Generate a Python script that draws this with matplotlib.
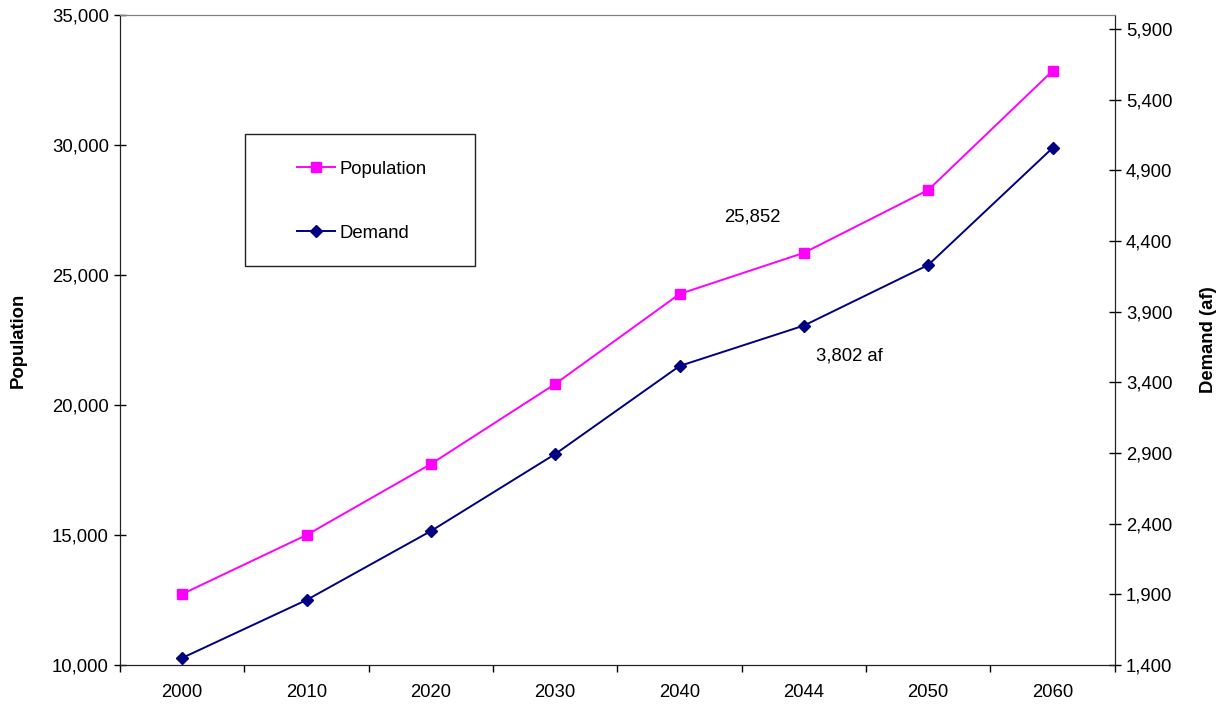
import matplotlib.pyplot as plt
from matplotlib.ticker import FuncFormatter, MultipleLocator
from matplotlib.patches import Rectangle
import numpy as np

plt.rcParams['font.family'] = ['Liberation Sans', 'DejaVu Sans']

# data
years = ['2000', '2010', '2020', '2030', '2040', '2044', '2050', '2060']
population = [12730, 15000, 17730, 20810, 24270, 25852, 28270, 32850]
demand = [1450, 1860, 2348, 2893, 3516, 3802, 4231, 5059]

fs = 13.3

fig = plt.figure(figsize=(12.25, 7.04), dpi=100)
ax = fig.add_axes([0.098, 0.0554, 0.812, 0.9233])
ax2 = ax.twinx()

x = np.arange(len(years))
lp, = ax.plot(x, population, color='#FF00FF', marker='s', markersize=7,
              linewidth=1.4, label='Population')
ld, = ax2.plot(x, demand, color='#000080', marker='D', markersize=6.3,
               linewidth=1.4, label='Demand')

ax.set_xlim(-0.5, len(years) - 0.5)
ax.set_ylim(10000, 35000)
ax2.set_ylim(1400, 6000)

comma = FuncFormatter(lambda v, p: '{:,.0f}'.format(v))
ax.yaxis.set_major_locator(MultipleLocator(5000))
ax.yaxis.set_major_formatter(comma)
ax2.set_yticks(np.arange(1400, 6000, 500))
ax2.yaxis.set_major_formatter(comma)

ax.set_xticks(x)
ax.set_xticklabels(years)
ax.set_xticks(np.arange(-0.5, len(years)), minor=True)
ax.tick_params(axis='x', which='major', length=0, pad=14, labelsize=fs)
ax.tick_params(axis='x', which='minor', length=5, direction='out', width=1)
ax.tick_params(axis='y', direction='inout', length=8, width=1, labelsize=fs, pad=4)
ax2.tick_params(axis='y', direction='inout', length=8, width=1, labelsize=fs, pad=4)

for a in (ax, ax2):
    a.spines['top'].set_color('#808080')
    a.spines['left'].set_color('#222222')
    a.spines['right'].set_color('#222222')
    a.spines['bottom'].set_color('#222222')

ax.set_ylabel('Population', fontsize=fs, fontweight='bold', labelpad=18)
ax2.set_ylabel('Demand (af)', fontsize=fs, fontweight='bold', rotation=90, labelpad=20)

ax.annotate('25,852', xy=(5, population[5]), xytext=(-37, 26),
            textcoords='offset points', ha='center', va='center', fontsize=fs)
ax2.annotate('3,802 af', xy=(5, demand[5]), xytext=(33, -22),
             textcoords='offset points', ha='center', va='center', fontsize=fs)

# legend box drawn separately, entries placed inside
ax.add_patch(Rectangle((0.1256, 0.614), 0.2314, 0.203, transform=ax.transAxes,
                       facecolor='white', edgecolor='#222222', linewidth=1, zorder=4))
leg = ax.legend([lp, ld], ['Population', 'Demand'], loc='upper left',
                bbox_to_anchor=(0.178, 0.776), fontsize=fs, frameon=False,
                handlelength=2.05, labelspacing=2.55, borderpad=0,
                handletextpad=0.27, borderaxespad=0)
leg.set_zorder(5)

fig.savefig('out.png', dpi=100)
